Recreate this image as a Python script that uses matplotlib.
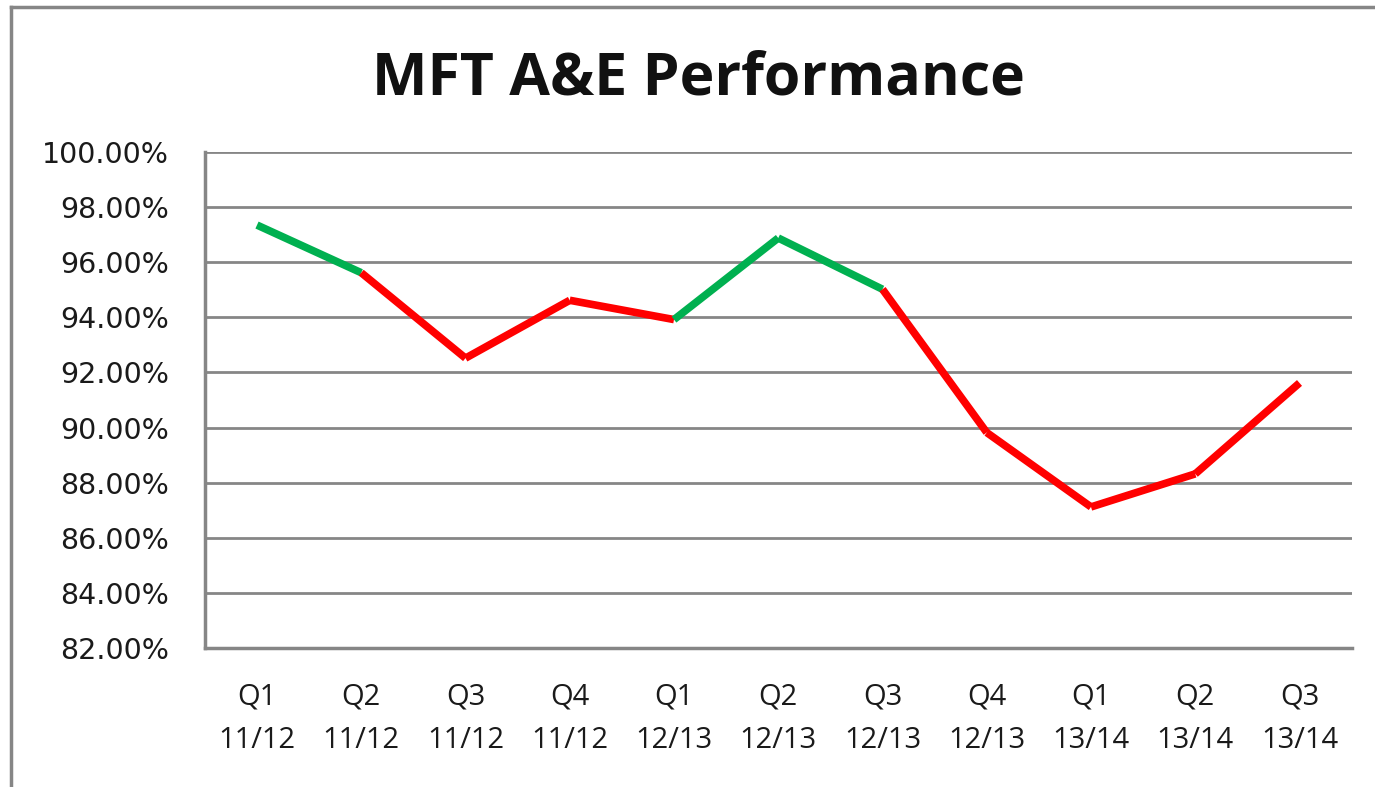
import matplotlib

matplotlib.use("Agg")
import matplotlib.pyplot as plt
from matplotlib.lines import Line2D
from matplotlib.ticker import FuncFormatter, MultipleLocator

quarters = ["Q1\n11/12", "Q2\n11/12", "Q3\n11/12", "Q4\n11/12", "Q1\n12/13",
            "Q2\n12/13", "Q3\n12/13", "Q4\n12/13", "Q1\n13/14", "Q2\n13/14",
            "Q3\n13/14"]
performance = [97.35, 95.62, 92.52, 94.62, 93.92, 96.88, 95.02, 89.82, 87.12,
               88.32, 91.62]
target = 95.0

_GREEN = "#00b050"
_RED = "#ff0000"
_GRID = "#868686"

fig = plt.figure(figsize=(13.75, 7.87), dpi=100, facecolor="white")
ax = fig.add_axes([0.149, 0.1766, 0.834, 0.6302])

x = list(range(len(quarters)))
# each segment is coloured by whether its end point meets the target
for i in range(1, len(performance)):
    col = _GREEN if performance[i] >= target else _RED
    ax.plot(x[i - 1:i + 1], performance[i - 1:i + 1], color=col, lw=5.5,
            solid_capstyle="butt", solid_joinstyle="miter", zorder=3)

ax.set_xlim(-0.5, len(quarters) - 0.5)
ax.set_ylim(82, 100)
ax.yaxis.set_major_locator(MultipleLocator(2))
ax.yaxis.set_major_formatter(FuncFormatter(lambda v, _: f"{v:.2f}%"))
ax.set_xticks(x)
ax.set_xticklabels(quarters, fontsize=21, family="Open Sans", linespacing=1.65,
                   color="#1a1a1a")
for t in ax.get_yticklabels():
    t.set_fontsize(20.5)
    t.set_color("#1a1a1a")
ax.tick_params(axis="y", length=0, pad=26)
ax.tick_params(axis="x", length=0, pad=25)
ax.grid(axis="y", color=_GRID, lw=2)
ax.set_axisbelow(True)
for side in ("top", "right"):
    ax.spines[side].set_visible(False)
for side in ("left", "bottom"):
    ax.spines[side].set_color(_GRID)
    ax.spines[side].set_linewidth(2.5)

fig.text(0.508, 0.899, "MFT A&E Performance", ha="center", va="center",
         fontsize=42.5, fontweight="bold", family="Open Sans", color="#111111")

# chart-area border
fig.add_artist(Line2D([0.008, 0.008], [0.0, 0.991], color=_GRID, lw=2.5))
fig.add_artist(Line2D([0.008, 1.0], [0.991, 0.991], color=_GRID, lw=2.5))

fig.savefig("out.png", dpi=100, facecolor="white")
